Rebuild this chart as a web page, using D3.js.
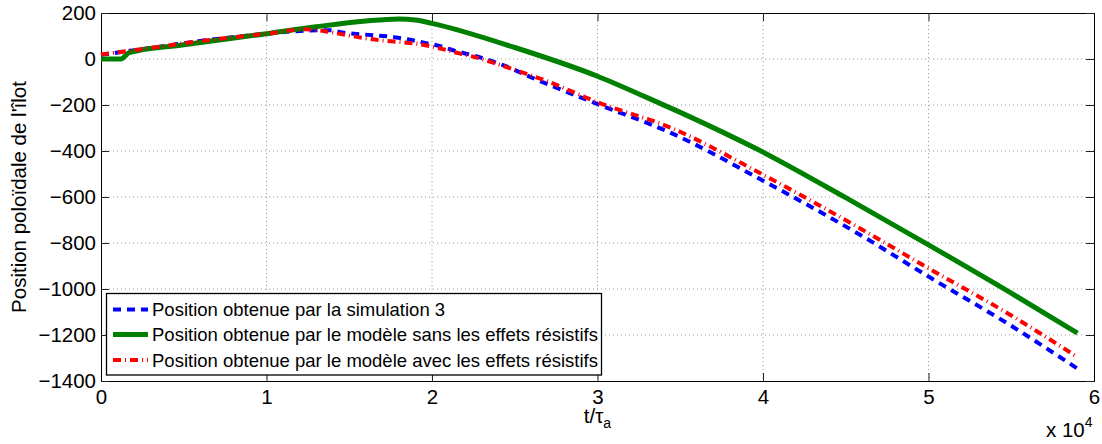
<!DOCTYPE html>
<html><head><meta charset="utf-8">
<script src="https://cdn.jsdelivr.net/npm/d3@7"></script>
<style>
html,body{margin:0;padding:0;background:#fff;}
svg text{font-family:"Liberation Sans",Arial,Helvetica,sans-serif;fill:#000;}
</style></head>
<body>
<svg id="chart" width="1102" height="444"></svg>
<script>
// Data (x in units of 10^4 t/tau_a)
const xTicks = [0,1,2,3,4,5,6];
const yTicks = [200,0,-200,-400,-600,-800,-1000,-1200,-1400];
const seriesNames = [
  "Position obtenue par la simulation 3",
  "Position obtenue par le modèle sans les effets résistifs",
  "Position obtenue par le modèle avec les effets résistifs"
];
const simX = [0,0.3,0.6,1.0,1.2,1.38,1.47,1.58,1.77,1.86,1.95,2.05,2.14,2.24,2.43,2.6,3.0,3.44,4.0,4.6,5.0,5.5,5.9];
const simY = [18,48,78,110,122,125,114,107,95,85,71,56,35,17,-27,-80,-196,-320,-529,-770,-946,-1160,-1346];
const sansX = [0,0.12,0.17,0.5,1.0,1.3,1.6,1.8,1.9,2.0,2.5,3.0,3.3,3.5,4.0,4.5,5.0,5.5,5.9];
const sansY = [0,0,28,62,110,140,165,174,170,155,50,-75,-168,-232,-405,-603,-808,-1018,-1192];
const avecX = [0,0.3,0.6,1.0,1.23,1.35,1.46,1.58,1.69,1.8,1.93,2.03,2.15,2.27,2.37,2.49,2.69,3.0,3.44,4.0,4.6,5.0,5.5,5.9];
const avecY = [20,48,78,110,129,121,107,92,81,74,64,49,27,6,-16,-45,-95,-188,-298,-503,-742,-910,-1115,-1296];

const svg = d3.select("#chart");
const L = 101, R = 1094, T = 13, B = 381;
const x = d3.scaleLinear().domain([0,6]).range([L,R]);
const y = d3.scaleLinear().domain([-1400,200]).range([B,T]);
const FS = "20.5px";

// grid
const grid = svg.append("g");
grid.selectAll("line.gx").data(xTicks.slice(1,-1)).join("line")
  .attr("x1",d=>x(d)).attr("x2",d=>x(d)).attr("y1",T).attr("y2",B)
  .attr("stroke","#9a9a9a").attr("stroke-width",1).attr("stroke-dasharray","1,3");
grid.selectAll("line.gy").data(yTicks.slice(1,-1)).join("line")
  .attr("x1",L).attr("x2",R).attr("y1",d=>y(d)).attr("y2",d=>y(d))
  .attr("stroke","#9a9a9a").attr("stroke-width",1).attr("stroke-dasharray","1,3");

// axes
const tl = 8;
const fmtX = d=>d3.format("d")(d);
const fmtY = d=>d<0 ? "\u2212"+Math.abs(d) : String(d);
const axB = d3.axisBottom(x).tickValues(xTicks).tickSize(-tl).tickPadding(8).tickFormat(fmtX);
const axT = d3.axisTop(x).tickValues(xTicks).tickSize(-tl).tickFormat("");
const axL = d3.axisLeft(y).tickValues(yTicks).tickSize(-tl).tickPadding(5).tickFormat(fmtY);
const axR = d3.axisRight(y).tickValues(yTicks).tickSize(-tl).tickFormat("");
[[axB,`translate(0,${B})`],[axT,`translate(0,${T})`],[axL,`translate(${L},0)`],[axR,`translate(${R},0)`]].forEach(([a,t])=>{
  const g = svg.append("g").attr("transform",t).call(a);
  g.select(".domain").attr("stroke","#000").attr("stroke-width",1);
  g.selectAll(".tick line").attr("stroke","#222");
  g.selectAll(".tick text").attr("font-size",FS).attr("fill","#000")
    .attr("font-family","'Liberation Sans',Arial,sans-serif");
});

// lines
const mk = (xs,ys)=>xs.map((v,i)=>[v,ys[i]]);
const line = d3.line().x(d=>x(d[0])).y(d=>y(d[1])).curve(d3.curveMonotoneX);
const styles = [
  {color:"#0000ff", w:4, dash:"8,6"},
  {color:"#008000", w:5, dash:null},
  {color:"#ff0000", w:4, dash:"8,4,1,4"}
];
const data = [mk(simX,simY), mk(sansX,sansY), mk(avecX,avecY)];
data.forEach((d,i)=>{
  svg.append("path").datum(d).attr("d",line).attr("fill","none")
    .attr("stroke",styles[i].color).attr("stroke-width",styles[i].w)
    .attr("stroke-dasharray",styles[i].dash).attr("stroke-linejoin","round");
});

// legend
const lg = svg.append("g");
lg.append("rect").attr("x",106.5).attr("y",293.5).attr("width",495).attr("height",81.5)
  .attr("fill","#fff").attr("stroke","#000").attr("stroke-width",1.3);
const rowY = [309.5,334.5,360];
seriesNames.forEach((n,i)=>{
  lg.append("line").attr("x1",113).attr("x2",148).attr("y1",rowY[i]).attr("y2",rowY[i])
    .attr("stroke",styles[i].color).attr("stroke-width",styles[i].w)
    .attr("stroke-dasharray",styles[i].dash);
  lg.append("text").attr("x",152).attr("y",rowY[i]+6.5).attr("font-size","18.5px").text(n);
});

// axis labels
const xl = svg.append("text").attr("x",x(3)).attr("y",423).attr("text-anchor","middle").attr("font-size",FS);
xl.append("tspan").text("t/\u03C4");
xl.append("tspan").attr("dy",5).attr("font-size","14px").text("a");
const ex = svg.append("text").attr("x",1046).attr("y",437).attr("font-size",FS);
ex.append("tspan").text("x 10");
ex.append("tspan").attr("dy",-10).attr("font-size","14px").text("4");
svg.append("text").attr("transform",`translate(26,${(T+B)/2}) rotate(-90)`)
  .attr("text-anchor","middle").attr("font-size",FS).text("Position poloïdale de l'îlot");
</script>
</body></html>
